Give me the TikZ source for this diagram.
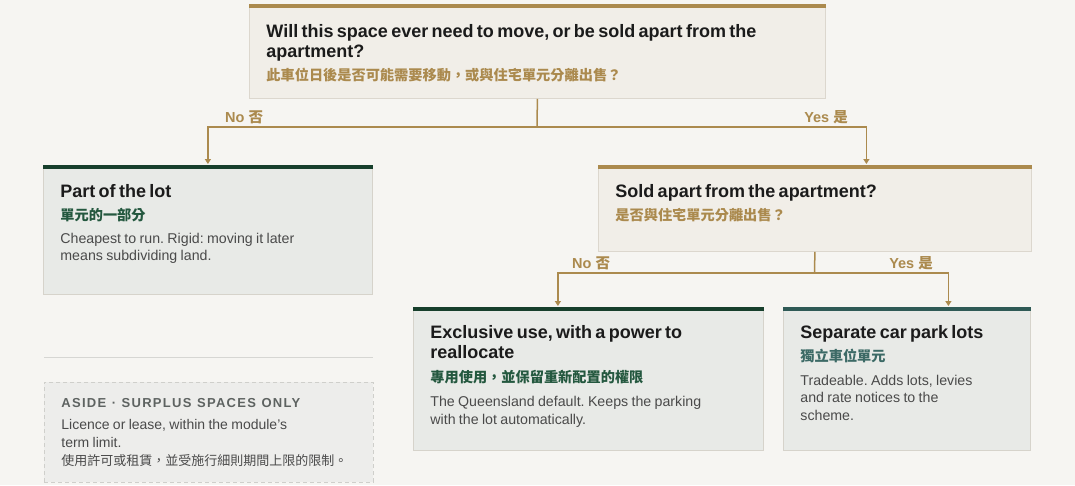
\documentclass[tikz,border=0pt]{standalone}
\usepackage{fontspec}
\setmainfont{Liberation Sans}
\newfontfamily\zh{Noto Sans CJK TC}
\newfontfamily\spaced[LetterSpace=10]{Liberation Sans}
\usetikzlibrary{arrows.meta}
\frenchspacing

\definecolor{paper}{HTML}{F6F5F2}
\definecolor{gold}{HTML}{AB8A4E}
\definecolor{qfill}{HTML}{F1EEE8}
\definecolor{qedge}{HTML}{DCD7CE}
\definecolor{ofill}{HTML}{E8EAE7}
\definecolor{oedge}{HTML}{D6D3CB}
\definecolor{pine}{HTML}{173F2C}
\definecolor{teal}{HTML}{2F5A56}
\definecolor{leaf}{HTML}{24583F}
\definecolor{sea}{HTML}{3C6A66}
\definecolor{ink}{HTML}{1B1B1B}
\definecolor{slate}{HTML}{4A4A4A}
\definecolor{mute}{HTML}{5E6361}
\definecolor{afill}{HTML}{EDEDEB}
\definecolor{aedge}{HTML}{CFCFCB}
\definecolor{hair}{HTML}{D6D6D3}

\newcommand\titlefont{\fontsize{18}{20}\selectfont\bfseries\color{ink}}
\newcommand\zhgold{\zh\bfseries\fontsize{14.2}{18}\selectfont\color{gold}}
\newcommand\zhgreen{\zh\bfseries\fontsize{14.2}{18}\selectfont\color{leaf}}
\newcommand\zhsea{\zh\bfseries\fontsize{14.2}{18}\selectfont\color{sea}}
\newcommand\bodyfont{\fontsize{14.2}{17.5}\selectfont\color{slate}}
\newcommand\asidehead{\spaced\bfseries\fontsize{13}{16}\selectfont\spaceskip=5.5pt plus 1pt\color{mute}}

\tikzset{
  card/.style={anchor=north west, inner xsep=17pt, inner ysep=0pt, align=left, line width=0.8pt},
  question/.style={card, draw=qedge, fill=qfill},
  outcome/.style={card, draw=oedge, fill=ofill},
  bar/.style={line width=3.5pt},
  link/.style={draw=gold, line width=1.5pt},
  flow/.style={link, -{Triangle[width=6pt,length=5pt]}, shorten >=1pt},
  branch/.style={font=\fontsize{14.5}{16}\selectfont\bfseries, text=gold, inner sep=0pt},
}

\begin{document}
\begin{tikzpicture}[x=1pt, y=-1pt]
    \fill[paper] (0,0) rectangle (1075,485);
    \useasboundingbox (0,0) rectangle (1075,485);

    \node[question, text width=542pt, text height=33pt, text depth=61pt] (q1) at (249,4)
        {{\titlefont Will this space ever need to move, or be sold apart from the\\ apartment?\par}\vspace{5pt}%
         {\zhgold 此車位日後是否可能需要移動，或與住宅單元分離出售？\par}};
    \node[outcome, text width=295pt, text height=32pt, text depth=97pt] (lot) at (43,165)
        {{\titlefont Part of the lot\par}\vspace{5pt}%
         {\zhgreen 單元的一部分\par}\vspace{5.5pt}%
         {\bodyfont Cheapest to run. Rigid: moving it later\\ means subdividing land.\par}};
    \node[question, text width=399pt, text height=32pt, text depth=54pt] (q2) at (598,165)
        {{\titlefont Sold apart from the apartment?\par}\vspace{5pt}%
         {\zhgold 是否與住宅單元分離出售？\par}};
    \node[outcome, text width=316pt, text height=31pt, text depth=112pt] (excl) at (413,307)
        {{\titlefont Exclusive use, with a power to\\ reallocate\par}\vspace{6pt}%
         {\zhgreen 專用使用，並保留重新配置的權限\par}\vspace{7pt}%
         {\bodyfont The Queensland default. Keeps the parking\\ with the lot automatically.\par}};
    \node[outcome, text width=213pt, text height=31pt, text depth=112pt] (sep) at (783,307)
        {{\titlefont Separate car park lots\par}\vspace{5pt}%
         {\zhsea 獨立車位單元\par}\vspace{6.5pt}%
         {\bodyfont Tradeable. Adds lots, levies\\ and rate notices to the\\ scheme.\par}};

    \draw[bar, gold] ([yshift=-1.75pt]q1.north west) -- ([yshift=-1.75pt]q1.north east);
    \draw[bar, gold] ([yshift=-1.75pt]q2.north west) -- ([yshift=-1.75pt]q2.north east);
    \draw[bar, pine] ([yshift=-1.75pt]lot.north west) -- ([yshift=-1.75pt]lot.north east);
    \draw[bar, pine] ([yshift=-1.75pt]excl.north west) -- ([yshift=-1.75pt]excl.north east);
    \draw[bar, teal] ([yshift=-1.75pt]sep.north west) -- ([yshift=-1.75pt]sep.north east);

    \coordinate (fork1) at (537,127);
    \coordinate (fork2) at (814.5,273);
    \draw[link](q1.south) -- (fork1);
    \draw[flow](fork1) -| (lot.north);
    \draw[flow](fork1) -| ([xshift=51.5pt]q2.north);
    \draw[link](q2.south) -- (fork2);
    \draw[flow](fork2) -| ([xshift=-30.5pt]excl.north);
    \draw[flow](fork2) -| ([xshift=41.5pt]sep.north);

    \node[branch, anchor=base west] (no1) at (225,122) {No {\zh 否}};
    \node[branch, anchor=base east] (yes1) at (848,122) {Yes {\zh 是}};
    \node[branch, anchor=base west] (no2) at (572,268) {No {\zh 否}};
    \node[branch, anchor=base east] (yes2) at (933,268) {Yes {\zh 是}};

    \draw[hair, line width=1pt] (44,357) -- (373,357);
    \node[card, draw=aedge, fill=afill, dash pattern=on 4pt off 3pt, text width=295pt, text height=25pt, text depth=75pt] (aside) at (44,382)
        {{\asidehead ASIDE · SURPLUS SPACES ONLY\par}\vspace{4.5pt}%
         {\bodyfont\fontsize{14}{18}\selectfont Licence or lease, within the module's\\ term limit.\par}%
         {\zh\fontsize{13}{18}\selectfont\color{slate}使用許可或租賃，並受施行細則期間上限的限制。\par}};
\end{tikzpicture}
\end{document}
